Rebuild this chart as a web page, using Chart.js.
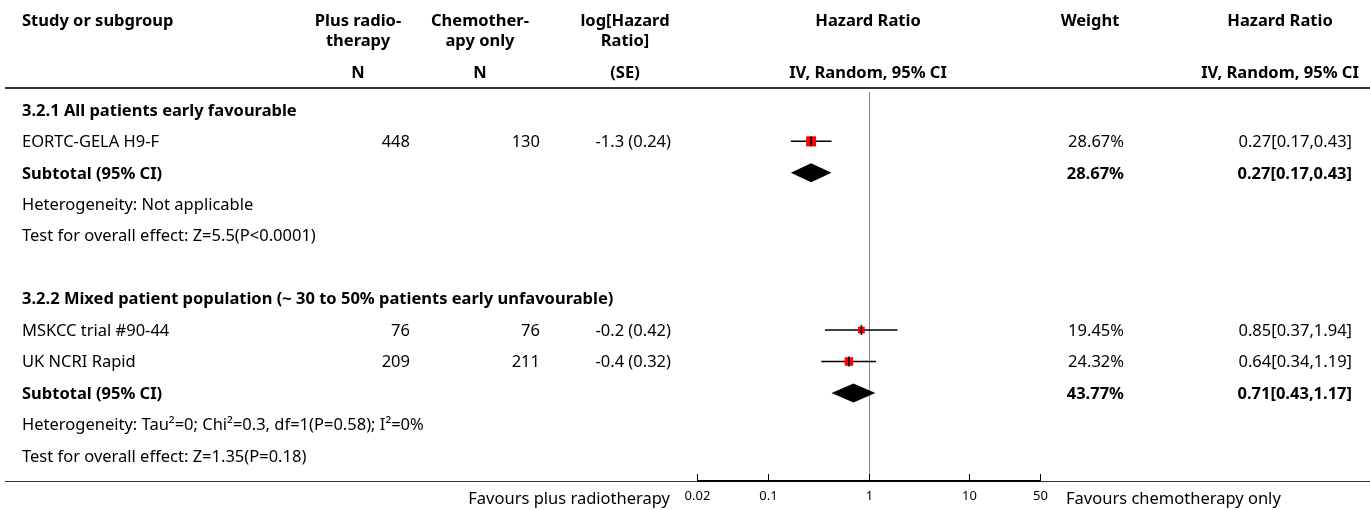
<!DOCTYPE html>
<html>

<head>
    <title>Forest plot: plus radiotherapy vs chemotherapy only</title>
    <script src="https://cdn.jsdelivr.net/npm/chart.js"></script>
    <style>
        body { margin: 0; background: #fff; }
    </style>
</head>

<body>

    <canvas id="forest" width="1370" height="510"></canvas>

    <script>
        // study level data
        var studies = ['EORTC-GELA H9-F', 'MSKCC trial #90-44', 'UK NCRI Rapid'];
        var nRadio = [448, 76, 209];
        var nChemo = [130, 76, 211];
        var logHR = ['-1.3', '-0.2', '-0.4'];
        var se = ['0.24', '0.42', '0.32'];
        var hr = [0.27, 0.85, 0.64];
        var hrLo = [0.17, 0.37, 0.34];
        var hrHi = [0.43, 1.94, 1.19];
        var weight = [28.67, 19.45, 24.32];

        // subgroup totals
        var groups = ['3.2.1 All patients early favourable',
            '3.2.2 Mixed patient population (~ 30 to 50% patients early unfavourable)'];
        var groupStudies = [[0], [1, 2]];
        var subHR = [0.27, 0.71];
        var subLo = [0.17, 0.43];
        var subHi = [0.43, 1.17];
        var subWeight = [28.67, 43.77];
        var heterogeneity = ['Heterogeneity: Not applicable',
            'Heterogeneity: Tau\u00b2=0; Chi\u00b2=0.3, df=1(P=0.58); I\u00b2=0%'];
        var overall = ['Test for overall effect: Z=5.5(P<0.0001)',
            'Test for overall effect: Z=1.35(P=0.18)'];

        var xTicks = [0.02, 0.1, 1, 10, 50];

        // one entry per table row, top to bottom
        var rows = [];
        groups.forEach(function (g, k) {
            if (k > 0) rows.push({ type: 'blank' });
            rows.push({ type: 'group', text: g });
            groupStudies[k].forEach(function (i) { rows.push({ type: 'study', i: i }); });
            rows.push({ type: 'subtotal', s: k });
            rows.push({ type: 'note', text: heterogeneity[k] });
            rows.push({ type: 'note', text: overall[k] });
        });

        var FONT = '"Noto Sans", sans-serif';
        var SIZE = 16.5;
        var col = { name: 22, radio: 410, chemo: 540, log: 671, weight: 1124, ci: 1352 };

        var ciSets = [], squares = [], marks = [];
        rows.forEach(function (r, idx) {
            if (r.type !== 'study') return;
            ciSets.push({
                type: 'scatter', showLine: true, order: 3,
                data: [{ x: hrLo[r.i], y: idx }, { x: hrHi[r.i], y: idx }],
                borderColor: '#000', borderWidth: 1.5, pointRadius: 0
            });
            squares.push({ x: hr[r.i], y: idx, w: weight[r.i] });
            marks.push({ x: hr[r.i], y: idx });
        });

        var datasets = ciSets.concat([{
            type: 'scatter', order: 2,
            data: squares,
            pointStyle: 'rect',
            pointRadius: squares.map(function (p) { return p.w * 0.35 / Math.SQRT2; }),
            backgroundColor: '#ff0000', borderWidth: 0
        }, {
            type: 'scatter', order: 1,
            data: marks,
            pointStyle: 'line', rotation: 90,
            pointRadius: 5, borderColor: '#000', borderWidth: 1.5
        }]);

        function text(ctx, s, x, y, align, bold, size) {
            ctx.font = (bold ? 'bold ' : '') + (size || SIZE) + 'px ' + FONT;
            ctx.textAlign = align || 'left';
            ctx.textBaseline = 'middle';
            ctx.fillStyle = '#000';
            ctx.fillText(s, x, y);
        }

        var forestPlugin = {
            id: 'forestTable',
            beforeDatasetsDraw: function (chart) {
                var ctx = chart.ctx, x = chart.scales.x, a = chart.chartArea;
                ctx.save();
                // line of no effect
                ctx.strokeStyle = '#888';
                ctx.lineWidth = 1;
                ctx.beginPath();
                ctx.moveTo(Math.round(x.getPixelForValue(1)) + 0.5, a.top);
                ctx.lineTo(Math.round(x.getPixelForValue(1)) + 0.5, a.bottom);
                ctx.stroke();
                ctx.restore();
            },
            afterDatasetsDraw: function (chart) {
                var ctx = chart.ctx, x = chart.scales.x, y = chart.scales.y;
                ctx.save();
                ctx.fillStyle = '#000';
                rows.forEach(function (r, idx) {
                    if (r.type !== 'subtotal') return;
                    var cy = y.getPixelForValue(idx);
                    ctx.beginPath();
                    ctx.moveTo(x.getPixelForValue(subLo[r.s]), cy);
                    ctx.lineTo(x.getPixelForValue(subHR[r.s]), cy - 9.5);
                    ctx.lineTo(x.getPixelForValue(subHi[r.s]), cy);
                    ctx.lineTo(x.getPixelForValue(subHR[r.s]), cy + 9.5);
                    ctx.closePath();
                    ctx.fill();
                });
                ctx.restore();
            },
            afterDraw: function (chart) {
                var ctx = chart.ctx, x = chart.scales.x, y = chart.scales.y, a = chart.chartArea;
                ctx.save();

                // column headings
                text(ctx, 'Study or subgroup', col.name, 21, 'left', true);
                text(ctx, 'Plus radio-', 358, 21, 'center', true);
                text(ctx, 'therapy', 358, 41, 'center', true);
                text(ctx, 'N', 358, 73, 'center', true);
                text(ctx, 'Chemother-', 480, 21, 'center', true);
                text(ctx, 'apy only', 480, 41, 'center', true);
                text(ctx, 'N', 480, 73, 'center', true);
                text(ctx, 'log[Hazard', 625, 21, 'center', true);
                text(ctx, 'Ratio]', 625, 41, 'center', true);
                text(ctx, '(SE)', 625, 73, 'center', true);
                text(ctx, 'Hazard Ratio', 868, 21, 'center', true);
                text(ctx, 'IV, Random, 95% CI', 868, 73, 'center', true);
                text(ctx, 'Weight', 1090, 21, 'center', true);
                text(ctx, 'Hazard Ratio', 1280, 21, 'center', true);
                text(ctx, 'IV, Random, 95% CI', 1280, 73, 'center', true);

                ctx.fillStyle = '#333';
                ctx.fillRect(5, 87, 1365, 2);

                // table body
                rows.forEach(function (r, idx) {
                    var cy = y.getPixelForValue(idx) + 1;
                    if (r.type === 'group') {
                        text(ctx, r.text, col.name, cy, 'left', true);
                    } else if (r.type === 'note') {
                        text(ctx, r.text, col.name, cy, 'left', false);
                    } else if (r.type === 'study') {
                        var i = r.i;
                        text(ctx, studies[i], col.name, cy, 'left');
                        text(ctx, String(nRadio[i]), col.radio, cy, 'right');
                        text(ctx, String(nChemo[i]), col.chemo, cy, 'right');
                        text(ctx, logHR[i] + ' (' + se[i] + ')', col.log, cy, 'right');
                        text(ctx, weight[i].toFixed(2) + '%', col.weight, cy, 'right');
                        text(ctx, hr[i].toFixed(2) + '[' + hrLo[i].toFixed(2) + ',' + hrHi[i].toFixed(2) + ']', col.ci, cy, 'right');
                    } else if (r.type === 'subtotal') {
                        var s = r.s;
                        text(ctx, 'Subtotal (95% CI)', col.name, cy, 'left', true);
                        text(ctx, subWeight[s].toFixed(2) + '%', col.weight, cy, 'right', true);
                        text(ctx, subHR[s].toFixed(2) + '[' + subLo[s].toFixed(2) + ',' + subHi[s].toFixed(2) + ']', col.ci, cy, 'right', true);
                    }
                });

                // bottom rule and axis
                var base = Math.round(a.bottom);
                ctx.fillStyle = '#333';
                ctx.fillRect(5, base, 1365, 1);
                ctx.fillStyle = '#000';
                ctx.fillRect(a.left, base - 1, a.right - a.left, 2);
                ctx.strokeStyle = '#000';
                ctx.lineWidth = 1;
                xTicks.forEach(function (t) {
                    var px = Math.round(x.getPixelForValue(t)) + 0.5;
                    ctx.beginPath();
                    ctx.moveTo(px, base);
                    ctx.lineTo(px, base - 7);
                    ctx.stroke();
                    text(ctx, String(t), px, base + 15, 'center', false, 13);
                });
                text(ctx, 'Favours plus radiotherapy', 670, base + 18, 'right');
                text(ctx, 'Favours chemotherapy only', 1066, base + 18, 'left');

                ctx.restore();
            }
        };

        new Chart(document.getElementById('forest').getContext('2d'), {
            type: 'scatter',
            data: { datasets: datasets },
            options: {
                responsive: false,
                animation: false,
                layout: { padding: { left: 697, right: 330, top: 92, bottom: 29 } },
                scales: {
                    x: { type: 'logarithmic', display: false, min: 0.02, max: 50 },
                    y: { type: 'linear', display: false, min: -0.57, max: 11.8, reverse: true }
                },
                plugins: {
                    legend: { display: false },
                    tooltip: { enabled: false }
                }
            },
            plugins: [forestPlugin]
        });
    </script>

</body>

</html>
